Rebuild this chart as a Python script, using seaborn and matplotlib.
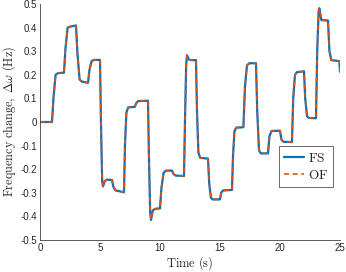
import numpy as np
import pandas as pd
import matplotlib
matplotlib.use("Agg")
import matplotlib.pyplot as plt
import seaborn as sns

# ─── Data ────────────────────────────────────────────────────────────────────

TIME = [0.00, 1.00, 1.12, 1.30, 1.50, 2.00, 2.12, 2.30, 2.50, 3.00,
        3.12, 3.30, 3.50, 4.00, 4.12, 4.30, 4.50, 5.00, 5.08, 5.18,
        5.25, 5.40, 5.60, 6.00, 6.12, 6.30, 6.50, 7.00, 7.08, 7.20,
        7.35, 7.90, 8.02, 8.20, 9.00, 9.08, 9.18, 9.25, 9.40, 9.60,
        10.00, 10.12, 10.30, 10.50, 11.00, 11.12, 11.30, 12.00, 12.08, 12.18,
        12.25, 12.40, 12.60, 13.00, 13.08, 13.20, 13.35, 14.00, 14.10, 14.25,
        14.40, 15.00, 15.10, 15.25, 16.00, 16.08, 16.20, 16.35, 16.95, 17.08,
        17.25, 17.45, 18.00, 18.10, 18.25, 18.40, 19.00, 19.12, 19.30, 20.00,
        20.12, 20.30, 21.00, 21.10, 21.25, 21.40, 22.00, 22.10, 22.25, 22.40,
        23.00, 23.10, 23.22, 23.28, 23.45, 24.00, 24.12, 24.28, 24.95, 25.00]

FS = [0.000, 0.000, 0.100, 0.200, 0.207, 0.209, 0.310, 0.400, 0.404, 0.409,
      0.290, 0.180, 0.171, 0.166, 0.220, 0.258, 0.263, 0.263, 0.000, -0.250,
      -0.273, -0.250, -0.244, -0.246, -0.275, -0.290, -0.292, -0.298, -0.100, 0.040,
      0.062, 0.064, 0.080, 0.089, 0.090, -0.150, -0.380, -0.415, -0.375, -0.368,
      -0.366, -0.280, -0.215, -0.206, -0.206, -0.220, -0.227, -0.229, 0.000, 0.240,
      0.283, 0.265, 0.262, 0.262, 0.050, -0.130, -0.152, -0.155, -0.260, -0.322,
      -0.328, -0.328, -0.300, -0.290, -0.288, -0.150, -0.040, -0.024, -0.022, 0.150,
      0.240, 0.249, 0.249, 0.050, -0.120, -0.133, -0.133, -0.060, -0.038, -0.037,
      -0.075, -0.084, -0.085, 0.100, 0.200, 0.211, 0.215, 0.100, 0.025, 0.017,
      0.016, 0.300, 0.470, 0.482, 0.432, 0.430, 0.300, 0.262, 0.258, 0.213]

OF = list(FS)  # the two controllers overlap to within a pixel

X_TICKS = [0, 5, 10, 15, 20, 25]
Y_TICKS = [-0.5, -0.4, -0.3, -0.2, -0.1, 0, 0.1, 0.2, 0.3, 0.4, 0.5]
Y_TICK_LABELS = ["-0.5", "-0.4", "-0.3", "-0.2", "-0.1", "0",
                 "0.1", "0.2", "0.3", "0.4", "0.5"]

BLUE = "#0072BD"
ORANGE = "#D95319"

# ─── Plot ────────────────────────────────────────────────────────────────────

sns.set_style("white")
plt.rcParams.update({
    "font.family": ["Liberation Sans", "DejaVu Sans"],
    "mathtext.fontset": "cm",
    "axes.unicode_minus": False,
})

df = pd.DataFrame({"time": TIME, "FS": FS, "OF": OF})

fig = plt.figure(figsize=(3.46, 2.72), dpi=100)
ax = fig.add_axes([40 / 346, 32 / 272, 300 / 346, 236 / 272])

sns.lineplot(data=df, x="time", y="FS", ax=ax, color=BLUE, linewidth=1.6,
             label="$\\mathrm{FS}$", sort=False)
sns.lineplot(data=df, x="time", y="OF", ax=ax, color=ORANGE, linewidth=1.2,
             linestyle=(0, (3.0, 2.2)), label="$\\mathrm{OF}$", sort=False)

ax.set_xlim(0, 25)
ax.set_ylim(-0.5, 0.5)
ax.set_xticks(X_TICKS)
ax.set_xticklabels([str(t) for t in X_TICKS])
ax.set_yticks(Y_TICKS)
ax.set_yticklabels(Y_TICK_LABELS)
ax.tick_params(direction="in", length=3, width=0.6, labelsize=7,
               colors="#262626", pad=2)

for side in ["top", "right"]:
    ax.spines[side].set_visible(False)
for side in ["left", "bottom"]:
    ax.spines[side].set_color("#404040")
    ax.spines[side].set_linewidth(0.6)

ax.set_xlabel("$\\mathrm{Time\\ (s)}$", fontsize=9, labelpad=1, color="#262626")
ax.set_ylabel("$\\mathrm{Frequency\\ change,}\\ \\Delta\\omega\\ \\mathrm{(Hz)}$",
              fontsize=8.8, labelpad=2, color="#262626")

leg = ax.legend(loc="lower right", bbox_to_anchor=(0.977, 0.225), fontsize=9.5,
                frameon=True, fancybox=False, handlelength=1.5, handletextpad=0.25,
                borderpad=0.4, labelspacing=0.3, borderaxespad=0)
leg.get_frame().set_edgecolor("#262626")
leg.get_frame().set_linewidth(0.6)

fig.savefig("out.png", dpi=100)
